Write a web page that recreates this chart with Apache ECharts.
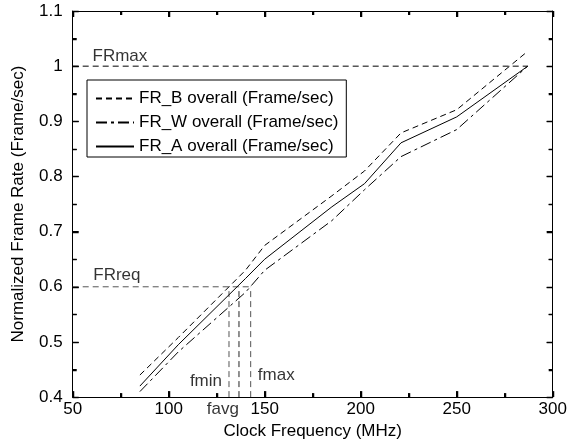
<!DOCTYPE html>
<html>
<head>
<meta charset="utf-8">
<script src="https://cdn.jsdelivr.net/npm/echarts@6/dist/echarts.min.js"></script>
<style>
  html, body { margin: 0; padding: 0; background: #fff; }
  #chart { width: 575px; height: 445px; }
</style>
</head>
<body>
<div id="chart"></div>
<script>
// clock frequency (MHz) of the measured points
const freqs = [85, 105, 140, 150, 185, 202, 221, 250, 287]
// normalized frame rates
const frB = [0.44, 0.508, 0.63, 0.675, 0.765, 0.81, 0.879, 0.921, 1.027]
const frW = [0.41, 0.482, 0.59, 0.63, 0.72, 0.776, 0.836, 0.885, 1.0]
const frA = [0.42, 0.495, 0.615, 0.65, 0.745, 0.787, 0.861, 0.908, 1.0]

// requirement / limit markers
const frMax = 1.0
const frReq = 0.6
const fMin = 131.4
const fAvg = 136.6
const fMax = 142.7
const fEnd = 287

// tick marks (labelled ones are the majors)
const xTicks = [50, 75, 100, 125, 150, 175, 200, 225, 250, 275, 300]
const yTicks = [0.4, 0.45, 0.5, 0.55, 0.6, 0.65, 0.7, 0.75, 0.8, 0.85, 0.9, 0.95, 1.0, 1.05, 1.1]

// annotation texts and where they sit (data coords)
const notes = [
  { name: 'FRmax', value: [74.6, 1.018] },
  { name: 'FRreq', value: [73, 0.621] },
  { name: 'fmin', value: [119.4, 0.428] },
  { name: 'fmax', value: [156, 0.44] },
  { name: 'favg', value: [128.2, 0.378] }
]

const font = 'Liberation Sans, Arial, sans-serif'
const fs = 17
const xMin = 50, xMax = 300, yMin = 0.4, yMax = 1.1
const zip = (xs, ys) => xs.map((x, i) => [x, ys[i]])

const chart = echarts.init(document.getElementById('chart'))

const crisp = (v) => Math.round(v) + 0.5
const tickStyle = { stroke: '#000', lineWidth: 1.5 }

// ticks on all four sides, pointing inwards
function xTickItem (params, api) {
  const v = api.value(0)
  const len = v % 50 === 0 ? 6 : 4
  const b = api.coord([v, yMin])
  const t = api.coord([v, yMax])
  const x = crisp(b[0])
  return {
    type: 'group',
    children: [
      { type: 'line', shape: { x1: x, y1: b[1], x2: x, y2: b[1] - len }, style: tickStyle },
      { type: 'line', shape: { x1: x, y1: t[1], x2: x, y2: t[1] + len }, style: tickStyle }
    ]
  }
}

function yTickItem (params, api) {
  const v = api.value(1)
  const len = Math.round(v * 100) % 10 === 0 ? 6 : 4
  const l = api.coord([xMin, v])
  const r = api.coord([xMax, v])
  const y = crisp(l[1])
  return {
    type: 'group',
    children: [
      { type: 'line', shape: { x1: l[0], y1: y, x2: l[0] + len, y2: y }, style: tickStyle },
      { type: 'line', shape: { x1: r[0], y1: y, x2: r[0] - len, y2: y }, style: tickStyle }
    ]
  }
}

const frameAxis = (extra) => Object.assign({
  axisLine: { show: true, onZero: false, lineStyle: { color: '#000', width: 1 } },
  axisTick: { show: true, inside: true, length: 6, lineStyle: { color: '#000', width: 1 } },
  minorTick: { show: true, splitNumber: 2, length: 4, lineStyle: { color: '#000', width: 1 } },
  splitLine: { show: false },
  axisLabel: { show: false }
}, extra)

const refLine = (data, color) => ({
  type: 'line',
  data,
  symbol: 'none',
  silent: true,
  lineStyle: { color, width: 1, type: [6, 4] },
  z: 1
})

const option = {
  animation: false,
  backgroundColor: '#fff',
  textStyle: { fontFamily: font },
  grid: { left: 72.7, right: 22.3, top: 11, bottom: 46.7 },
  legend: {
    data: ['FR_B overall (Frame/sec)', 'FR_W overall (Frame/sec)', 'FR_A overall (Frame/sec)'],
    orient: 'vertical',
    left: 87,
    top: 80,
    itemWidth: 38,
    itemHeight: 16,
    itemGap: 7,
    padding: [10, 8, 2, 8],
    borderColor: '#000',
    borderWidth: 1,
    backgroundColor: '#fff',
    itemStyle: { opacity: 0 },
    textStyle: { fontFamily: font, fontSize: fs, color: '#000' }
  },
  xAxis: [
    frameAxis({
      type: 'value', min: xMin, max: xMax, interval: 50,
      name: 'Clock Frequency (MHz)', nameLocation: 'middle', nameGap: 25,
      nameTextStyle: { fontFamily: font, fontSize: fs, color: '#000' },
      axisLabel: { show: true, color: '#000', fontSize: fs, fontFamily: font, margin: 4 }
    }),
    frameAxis({ type: 'value', min: xMin, max: xMax, interval: 50, position: 'top' })
  ],
  yAxis: [
    frameAxis({
      type: 'value', min: yMin, max: yMax, interval: 0.1,
      name: 'Normalized Frame Rate (Frame/sec)', nameLocation: 'middle', nameGap: 46,
      nameTextStyle: { fontFamily: font, fontSize: fs, color: '#000' },
      axisLabel: { show: true, color: '#000', fontSize: fs, fontFamily: font, margin: 10 }
    }),
    frameAxis({ type: 'value', min: yMin, max: yMax, interval: 0.1, position: 'right' })
  ],
  series: [
    {
      type: 'custom',
      renderItem: xTickItem,
      data: xTicks.map((v) => [v, yMin]),
      silent: true,
      clip: false,
      z: 5
    },
    {
      type: 'custom',
      renderItem: yTickItem,
      data: yTicks.map((v) => [xMin, v]),
      silent: true,
      clip: false,
      z: 5
    },
    refLine([[xMin, frMax], [fEnd, frMax]], '#000'),
    refLine([[xMin, frReq], [fMax, frReq]], '#555'),
    refLine([[fMin, yMin], [fMin, frReq]], '#555'),
    refLine([[fAvg, yMin], [fAvg, frReq]], '#222'),
    refLine([[fMax, yMin], [fMax, frReq]], '#555'),
    {
      name: 'FR_B overall (Frame/sec)',
      type: 'line',
      data: zip(freqs, frB),
      symbol: 'none',
      lineStyle: { color: '#000', width: 1, type: [6, 4] },
      itemStyle: { color: '#000' },
      z: 3
    },
    {
      name: 'FR_W overall (Frame/sec)',
      type: 'line',
      data: zip(freqs, frW),
      symbol: 'none',
      lineStyle: { color: '#000', width: 1, type: [11, 4, 3, 4] },
      itemStyle: { color: '#000' },
      z: 3
    },
    {
      name: 'FR_A overall (Frame/sec)',
      type: 'line',
      data: zip(freqs, frA),
      symbol: 'none',
      lineStyle: { color: '#000', width: 1, type: 'solid' },
      itemStyle: { color: '#000' },
      z: 3
    },
    {
      type: 'scatter',
      data: notes,
      symbolSize: 0,
      silent: true,
      clip: false,
      label: {
        show: true,
        position: 'inside',
        formatter: (p) => p.name,
        color: '#000',
        fontSize: fs,
        fontFamily: font
      },
      z: 4
    }
  ]
}

chart.setOption(option)
</script>
</body>
</html>
